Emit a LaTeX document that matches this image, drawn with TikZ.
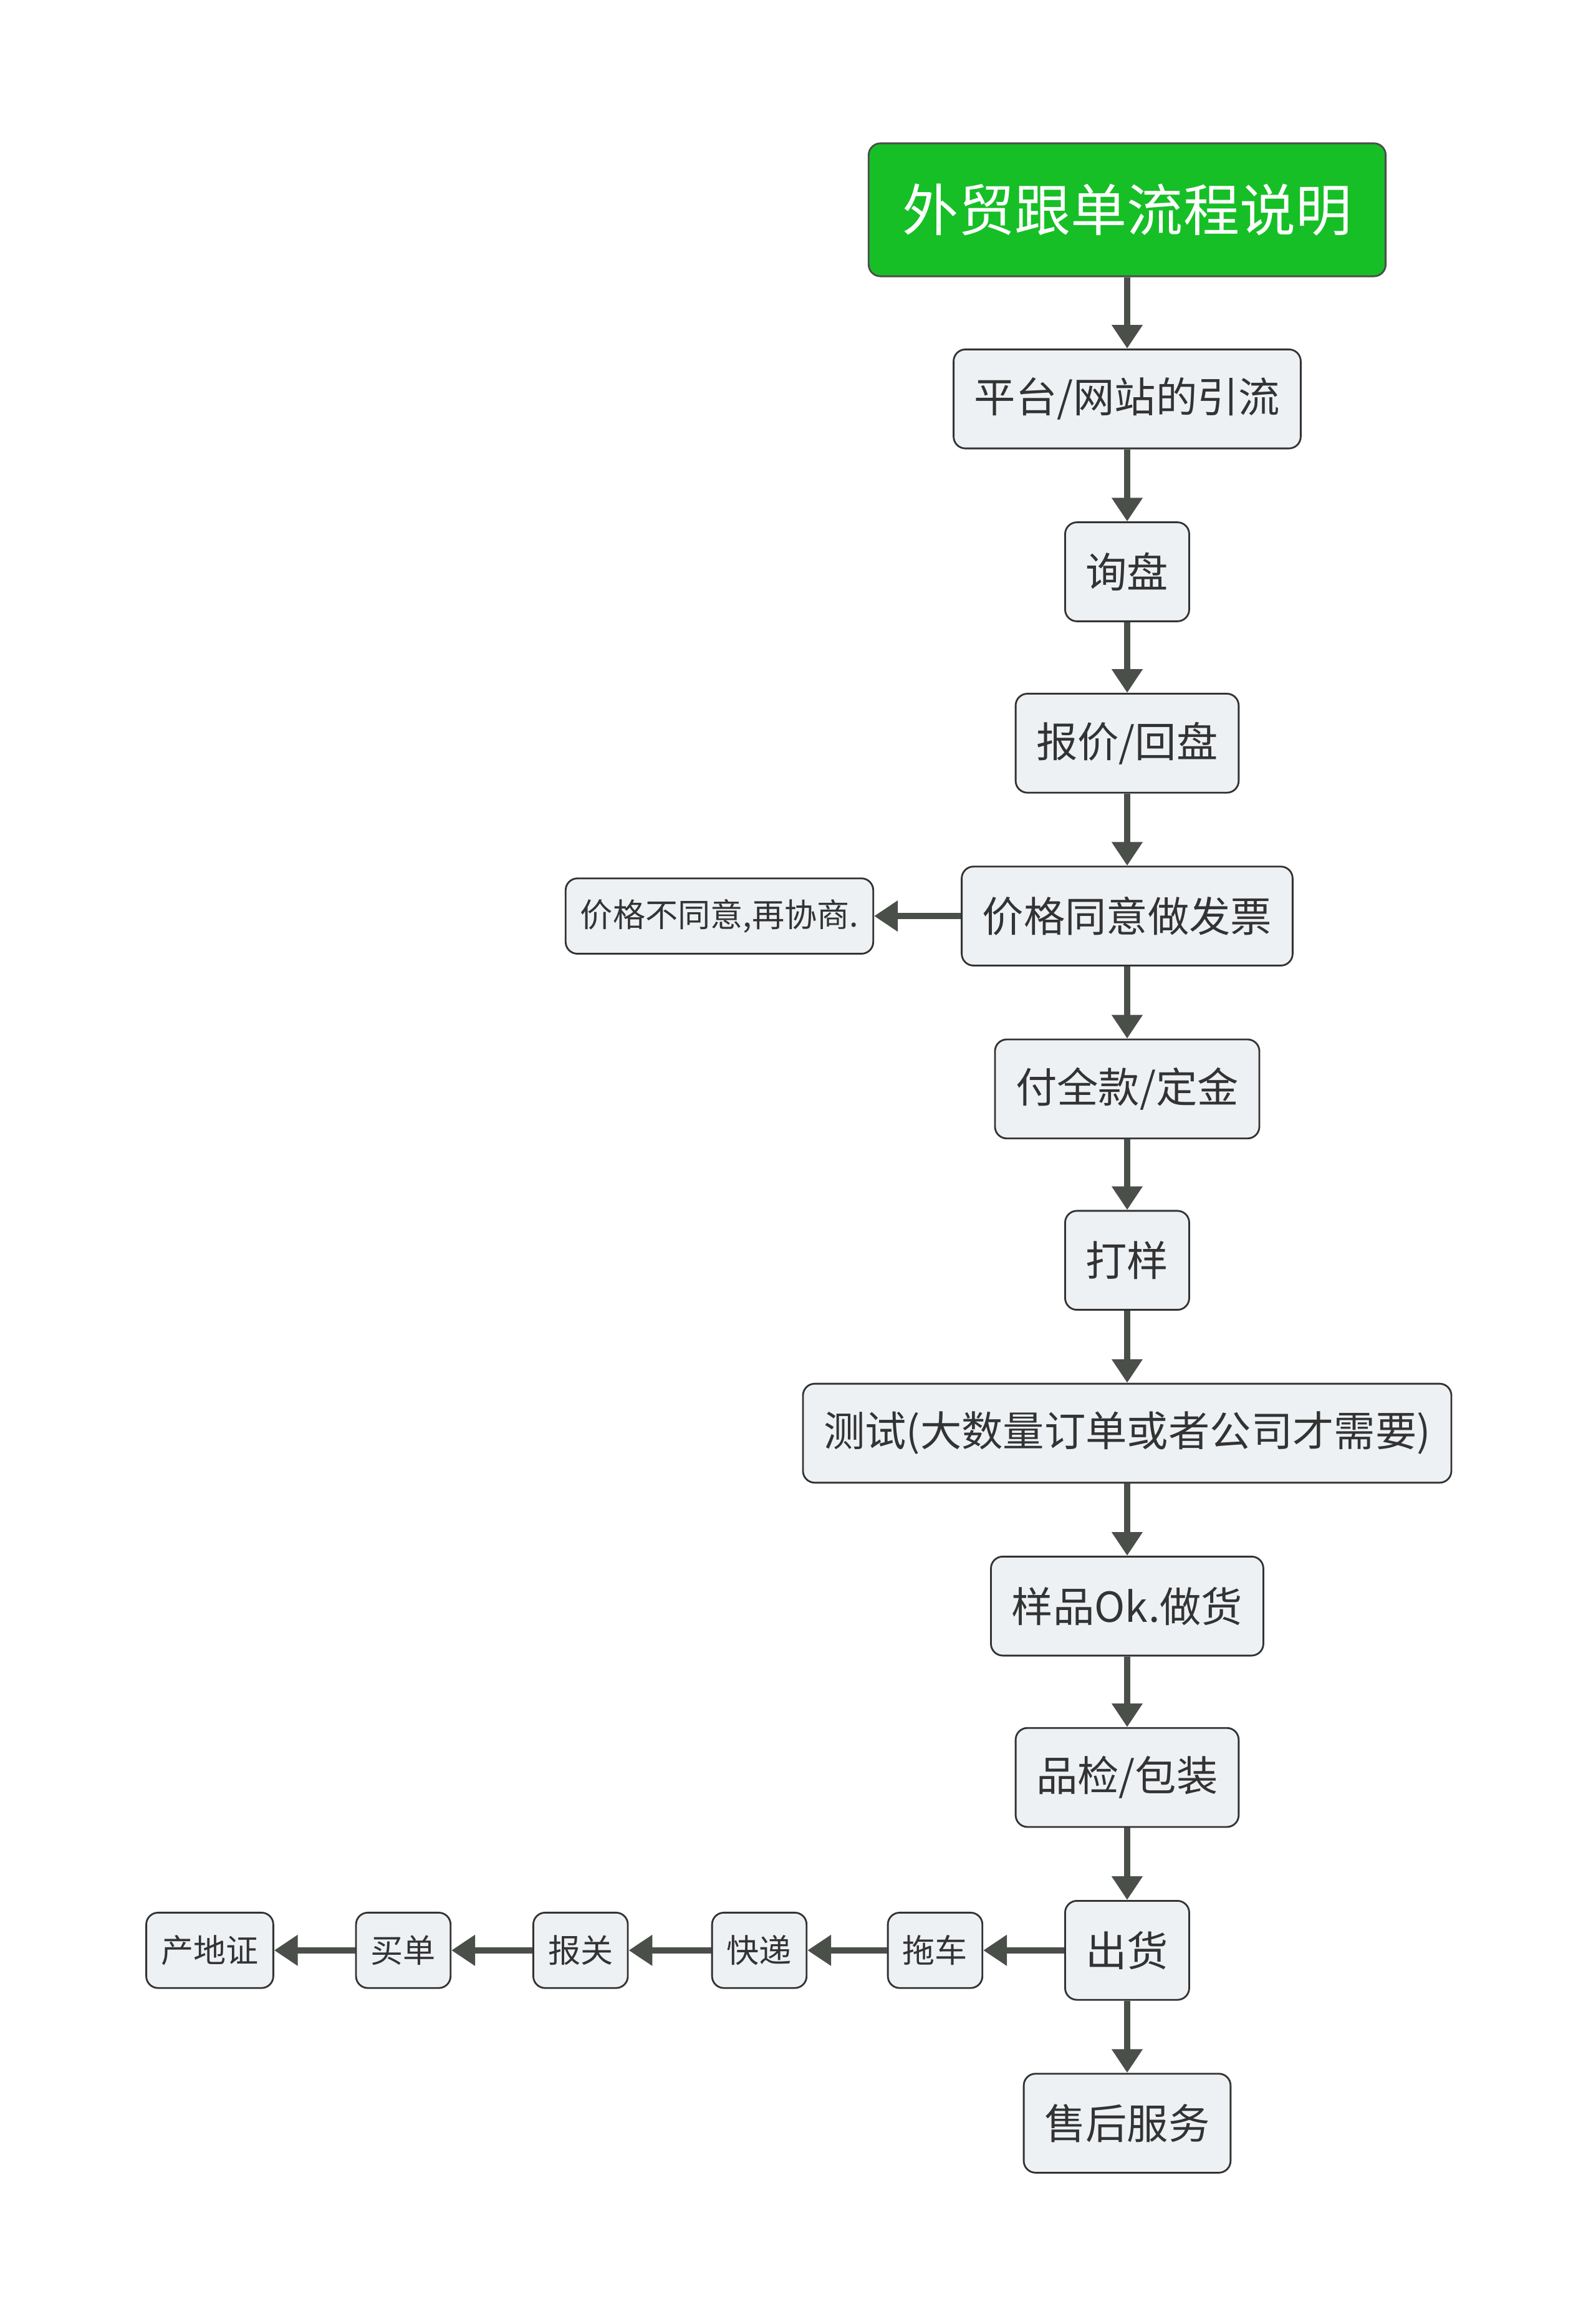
\documentclass[tikz,border=0pt]{standalone}
\usepackage{fontspec}
\setmainfont{Noto Sans CJK SC}
\usetikzlibrary{arrows.meta,positioning}
\definecolor{linegray}{HTML}{4A4F4A}
\definecolor{boxfill}{HTML}{EEF1F4}
\definecolor{titlegreen}{HTML}{16BF26}
\begin{document}
\begin{tikzpicture}[
		x=0.5pt, y=-0.5pt,
		block/.style={draw=black!80, fill=boxfill, rounded corners=4pt, line width=0.6pt, minimum height=33.5pt, inner xsep=7pt, font=\fontsize{14}{16}\selectfont, text=black!80},
		small/.style={block, minimum height=25.5pt, inner xsep=5pt, font=\fontsize{11}{13}\selectfont},
		flow/.style={-{Triangle[length=8pt,width=10pt]}, draw=linegray, line width=2pt},
	]
		\useasboundingbox (0,0) rectangle (1080,1556);
		\node (title) [block, fill=titlegreen, draw=black!70, text=white, minimum width=175pt, minimum height=45pt, font=\fontsize{19}{22}\selectfont] at (763,142) {外贸跟单流程说明};
		\node (yinliu) [block] at (763,270) {平台/网站的引流};
		\node (xunpan) [block] at (763,387) {询盘};
		\node (baojia) [block] at (763,503) {报价/回盘};
		\node (tongyi) [block] at (763,620) {价格同意做发票};
		\node (xieshang) [small] at (487,620) {价格不同意,再协商.};
		\node (fukuan) [block] at (763,737) {付全款/定金};
		\node (dayang) [block] at (763,853) {打样};
		\node (ceshi) [block] at (763,970) {测试(大数量订单或者公司才需要)};
		\node (zuohuo) [block] at (763,1087) {样品Ok.做货};
		\node (pinjian) [block] at (763,1203) {品检/包装};
		\node (chuhuo) [block] at (763,1320) {出货};
		\node (shouhou) [block] at (763,1437) {售后服务};
		
		\node (tuoche) [small] at (633,1320) {拖车};
		\node (kuaidi) [small] at (514,1320) {快递};
		\node (baoguan) [small] at (393,1320) {报关};
		\node (maidan) [small] at (273,1320) {买单};
		\node (chandi) [small] at (142,1320) {产地证};
		
		\foreach \a/\b in {title/yinliu, yinliu/xunpan, xunpan/baojia, baojia/tongyi, tongyi/fukuan, fukuan/dayang, dayang/ceshi, ceshi/zuohuo, zuohuo/pinjian, pinjian/chuhuo, chuhuo/shouhou, tongyi/xieshang, chuhuo/tuoche, tuoche/kuaidi, kuaidi/baoguan, baoguan/maidan, maidan/chandi}
			\draw[flow] (\a) -- (\b);
	\end{tikzpicture}
\end{document}
